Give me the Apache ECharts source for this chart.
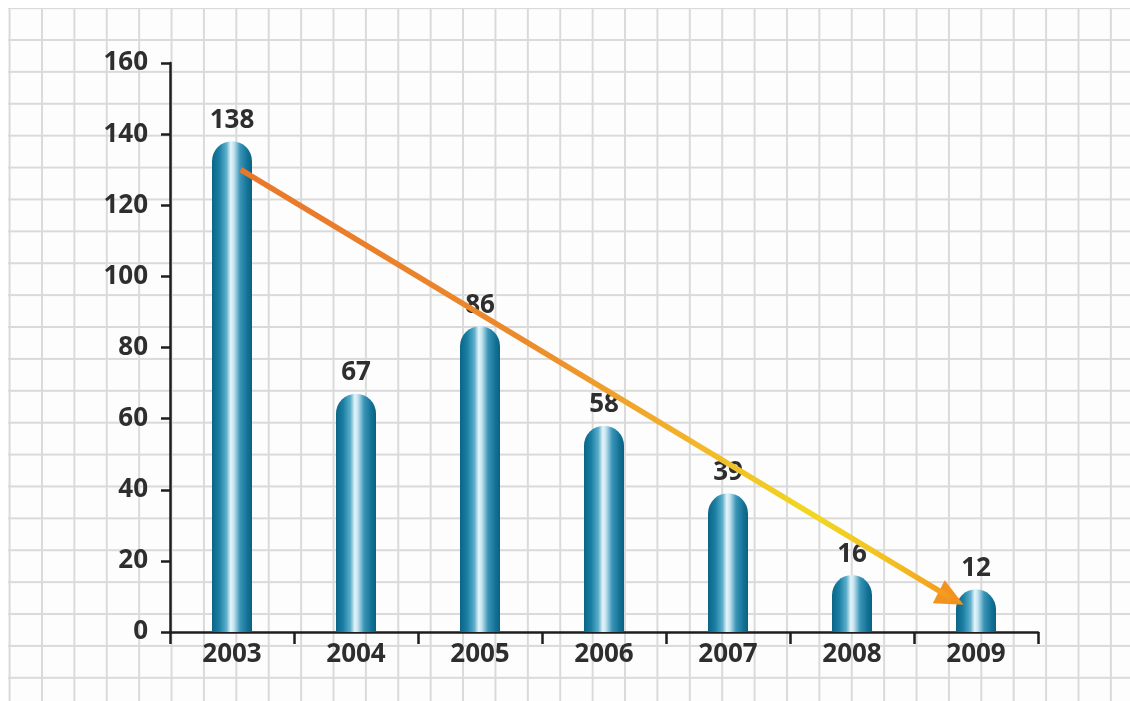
<!DOCTYPE html>
<html>
<head>
<meta charset="utf-8">
<script src="https://cdn.jsdelivr.net/npm/echarts@6/dist/echarts.min.js"></script>
<style>
  html, body { margin: 0; padding: 0; background: #ffffff; }
  #wrap { position: relative; width: 1130px; height: 701px; overflow: hidden; background: #ffffff; }
  #paper {
    position: absolute; left: 8px; top: 8px; right: 0; bottom: 0;
    background-color: #fdfdfd;
    background-image:
      linear-gradient(to right, #dadada 0, #dadada 2px, transparent 2px),
      linear-gradient(to bottom, #dadada 0, #dadada 2px, transparent 2px);
    background-size: 32.4px 31.9px;
    background-position: 33px 31px;
  }
  #chart { position: absolute; left: 0; top: 0; width: 1130px; height: 701px; }
</style>
</head>
<body>
<div id="wrap">
  <div id="paper"></div>
  <div id="chart"></div>
</div>
<script>
// ---- data ----
const categories = ['2003', '2004', '2005', '2006', '2007', '2008', '2009'];
const values = [138, 67, 86, 58, 39, 16, 12];
const yTicks = [0, 20, 40, 60, 80, 100, 120, 140, 160];
// trend arrow: [category index, value]
const arrowFrom = [0.07, 130];
const arrowTo = [5.8, 9.5];
const arrowHeadFrom = [5.7, 11.3];

const chart = echarts.init(document.getElementById('chart'), null, { renderer: 'canvas' });

const fontFamily = '"Open Sans", "Liberation Sans", sans-serif';

const barGradient = new echarts.graphic.LinearGradient(0, 0, 1, 0, [
  { offset: 0, color: '#0a6586' },
  { offset: 0.18, color: '#1a7fa3' },
  { offset: 0.36, color: '#5caecb' },
  { offset: 0.47, color: '#e6f5fa' },
  { offset: 0.55, color: '#bfe2ee' },
  { offset: 0.7, color: '#3b95b8' },
  { offset: 0.88, color: '#137396' },
  { offset: 1, color: '#0a6180' }
]);

const arrowGradient = new echarts.graphic.LinearGradient(0, 0, 1, 0, [
  { offset: 0, color: '#e8772b' },
  { offset: 0.4, color: '#ec8a2a' },
  { offset: 0.62, color: '#f2b22a' },
  { offset: 0.8, color: '#f0d822' },
  { offset: 0.92, color: '#f3bd22' },
  { offset: 1, color: '#f3951e' }
]);

const option = {
  animation: false,
  backgroundColor: 'transparent',
  grid: { left: 170, right: 92, top: 63, bottom: 69, containLabel: false },
  xAxis: [
    {
      type: 'category',
      data: categories,
      boundaryGap: true,
      axisLine: { show: true, onZero: false, lineStyle: { color: '#1e1e1e', width: 2.5 } },
      axisTick: { show: true, length: 12, lineStyle: { color: '#1e1e1e', width: 2.5 } },
      axisLabel: { color: '#2e2e2e', fontSize: 26, fontFamily: fontFamily, fontWeight: 'bold', margin: 10 },
      splitLine: { show: false }
    },
    {
      type: 'value',
      min: -0.5,
      max: categories.length - 0.5,
      show: false
    }
  ],
  yAxis: {
    type: 'value',
    min: yTicks[0],
    max: yTicks[yTicks.length - 1],
    interval: 20,
    axisLine: { show: true, onZero: false, lineStyle: { color: '#1e1e1e', width: 2.5 } },
    axisTick: { show: true, inside: false, length: 9, lineStyle: { color: '#1e1e1e', width: 2.5 } },
    axisLabel: { color: '#2e2e2e', fontSize: 26, fontFamily: fontFamily, fontWeight: 'bold', margin: 22 },
    splitLine: { show: false }
  },
  series: [
    {
      type: 'bar',
      data: values,
      barWidth: 40,
      itemStyle: { color: barGradient, borderRadius: [20, 20, 0, 0] },
      label: {
        show: true,
        position: 'top',
        distance: 8,
        color: '#2e2e2e',
        fontSize: 26,
        fontFamily: fontFamily,
        fontWeight: 'bold'
      },
      z: 2
    },
    {
      type: 'line',
      xAxisIndex: 1,
      data: [arrowFrom, arrowTo],
      showSymbol: false,
      symbol: 'none',
      lineStyle: { color: arrowGradient, width: 5.5, cap: 'butt' },
      z: 5,
      markLine: {
        silent: true,
        symbol: ['none', 'triangle'],
        symbolSize: [26, 28],
        label: { show: false },
        lineStyle: { color: '#f3921e', width: 5.5, type: 'solid' },
        data: [[{ coord: arrowHeadFrom }, { coord: arrowTo }]]
      }
    }
  ]
};

chart.setOption(option);
</script>
</body>
</html>
